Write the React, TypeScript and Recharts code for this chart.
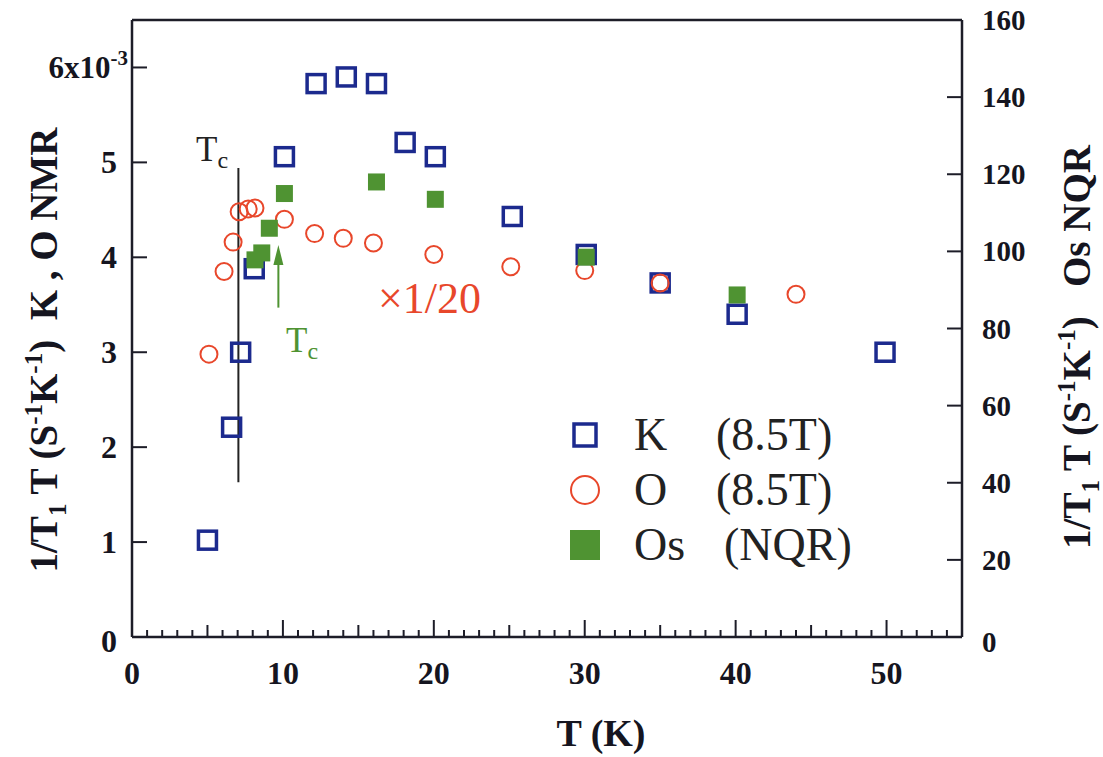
import {
  ScatterChart, Scatter, XAxis, YAxis, ReferenceLine, Legend,
} from 'recharts';

// temperature (K) and 1/T1T for each nucleus; K and O in 10^-3 units (left axis), Os on the right axis
const kT = [5.0, 6.6, 7.2, 8.1, 10.1, 12.2, 14.2, 16.2, 18.1, 20.1, 25.2, 30.1, 35.0, 40.1, 49.9];
const kVal = [1.02, 2.21, 3.0, 3.88, 5.06, 5.83, 5.9, 5.83, 5.21, 5.06, 4.43, 4.03, 3.73, 3.4, 3.0];

const oT = [5.1, 6.1, 6.7, 7.1, 7.7, 8.15, 10.1, 12.1, 14.0, 16.0, 20.0, 25.1, 30.0, 35.0, 44.0];
const oVal = [2.98, 3.85, 4.16, 4.48, 4.51, 4.52, 4.4, 4.25, 4.2, 4.15, 4.03, 3.9, 3.86, 3.73, 3.61];

const osT = [8.15, 8.6, 9.1, 10.1, 16.2, 20.1, 30.1, 40.1];
const osVal = [97.8, 99.6, 106, 115, 118, 113.5, 98.5, 88.7];

const xTicks = Array.from({ length: 56 }, (_, i) => i);
const leftTicks = [0, 1, 2, 3, 4, 5, 6];
const rightTicks = [0, 20, 40, 60, 80, 100, 120, 140, 160];

const tcT = 7.05;
const tcRange = [1.63, 4.94];
const osTcT = 9.7;
const osTcArrow = [3.47, 4.13];

const kData = kT.map((t, i) => ({ t, v: kVal[i] }));
const oData = oT.map((t, i) => ({ t, v: oVal[i] }));
const osData = osT.map((t, i) => ({ t, v: osVal[i] }));

const FONT = '"Liberation Serif", "Times New Roman", Times, serif';
const AXIS = '#1d1d28';
const INK = '#151520';
const BLUE = '#1c2a8e';
const RED = '#e8472b';
const GREEN = '#4f9332';

const tickLen = (v: number) => (v % 10 === 0 ? 17 : v % 5 === 0 ? 12 : 7);

const BottomTick = ({ x, y, payload }: any) => {
  const v = payload.value;
  return (
    <g>
      <line x1={x} y1={y} x2={x} y2={y - tickLen(v)} stroke={AXIS} strokeWidth={2} />
      {v % 10 === 0 && v <= 50 && (
        <text x={x} y={y + 47} textAnchor="middle" fontFamily={FONT} fontWeight="bold" fontSize={32} fill={INK}>
          {v}
        </text>
      )}
    </g>
  );
};

const TopTick = ({ x, y, payload }: any) => (
  <line x1={x} y1={y} x2={x} y2={y + tickLen(payload.value)} stroke={AXIS} strokeWidth={2} />
);

const LeftTick = ({ x, y, payload }: any) => {
  const v = payload.value;
  return (
    <g>
      <line x1={x} y1={y} x2={x + 15} y2={y} stroke={AXIS} strokeWidth={2} />
      {v === 6 ? (
        <text x={x - 4} y={y + 11} textAnchor="end" fontFamily={FONT} fontWeight="bold" fontSize={31} fill={INK}>
          6x10<tspan dy={-13} fontSize={21}>-3</tspan>
        </text>
      ) : (
        <text x={x - 15} y={y + (v === 0 ? 15 : 11)} textAnchor="end" fontFamily={FONT} fontWeight="bold" fontSize={32} fill={INK}>
          {v}
        </text>
      )}
    </g>
  );
};

const RightTick = ({ x, y, payload }: any) => (
  <g>
    <line x1={x} y1={y} x2={x - 15} y2={y} stroke={AXIS} strokeWidth={2} />
    <text x={x + 20} y={y + (payload.value === 0 ? 15 : 10)} textAnchor="start" fontFamily={FONT} fontWeight="bold" fontSize={29} fill={INK}>
      {payload.value}
    </text>
  </g>
);

const OpenSquare = ({ cx, cy }: any) => (
  <rect x={cx - 9} y={cy - 9} width={18} height={18} fill="none" stroke={BLUE} strokeWidth={3.5} />
);
const OpenCircle = ({ cx, cy }: any) => (
  <circle cx={cx} cy={cy} r={8.5} fill="none" stroke={RED} strokeWidth={2} />
);
const FilledSquare = ({ cx, cy }: any) => (
  <rect x={cx - 8.5} y={cy - 8.5} width={17} height={17} fill={GREEN} />
);

const ArrowUp = ({ x1, y1, x2, y2 }: any) => {
  const top = Math.min(y1, y2);
  const bottom = Math.max(y1, y2);
  return (
    <g>
      <line x1={x1} y1={bottom} x2={x2} y2={top + 14} stroke={GREEN} strokeWidth={2} />
      <polygon points={`${x2},${top} ${x2 - 5},${top + 20} ${x2 + 5},${top + 20}`} fill={GREEN} />
    </g>
  );
};

const legendRows = [
  { name: 'K', note: '(8.5T)', sym: <rect x={4} y={4} width={22} height={22} fill="none" stroke={BLUE} strokeWidth={3.5} />, pad: 0 },
  { name: 'O', note: '(8.5T)', sym: <circle cx={15} cy={15} r={14} fill="none" stroke={RED} strokeWidth={2} />, pad: 0 },
  { name: 'Os', note: '(NQR)', sym: <rect x={0} y={0} width={30} height={30} fill={GREEN} />, pad: 8 },
];

const renderLegend = () => (
  <div style={{ fontFamily: FONT, fontSize: 46, color: '#222', lineHeight: '55px' }}>
    {legendRows.map((r) => (
      <div key={r.name} style={{ display: 'flex', alignItems: 'center', height: 55 }}>
        <svg width={30} height={30} style={{ overflow: 'visible' }}>{r.sym}</svg>
        <span style={{ marginLeft: 34, width: 82 }}>{r.name}</span>
        <span style={{ paddingLeft: r.pad }}>{r.note}</span>
      </div>
    ))}
  </div>
);

export default function App() {
  return (
    <div style={{ position: 'absolute', left: 0, top: 0, width: 1103, height: 757, background: '#fff', fontFamily: FONT }}>
      <ScatterChart width={1103} height={757} margin={{ top: 19, right: 81, bottom: 80, left: 72 }}>
        <XAxis
          type="number" dataKey="t" domain={[0, 55]} ticks={xTicks} interval={0}
          tickSize={0} tickMargin={0} tick={<BottomTick />} height={40}
          axisLine={{ stroke: AXIS, strokeWidth: 2.5 }} tickLine={false}
        />
        <XAxis
          xAxisId="top" orientation="top" type="number" domain={[0, 55]} ticks={xTicks} interval={0}
          tickSize={0} tickMargin={0} tick={<TopTick />} height={1}
          axisLine={{ stroke: AXIS, strokeWidth: 2.5 }} tickLine={false}
        />
        <YAxis
          yAxisId="left" type="number" dataKey="v" domain={[0, 6.5]} ticks={leftTicks} interval={0}
          tickSize={0} tickMargin={0} tick={<LeftTick />} width={60} allowDataOverflow
          axisLine={{ stroke: AXIS, strokeWidth: 2.5 }} tickLine={false}
        />
        <YAxis
          yAxisId="right" orientation="right" type="number" dataKey="v" domain={[0, 160]} ticks={rightTicks} interval={0}
          tickSize={0} tickMargin={0} tick={<RightTick />} width={60} allowDataOverflow
          axisLine={{ stroke: AXIS, strokeWidth: 2.5 }} tickLine={false}
        />
        <ReferenceLine
          yAxisId="left" segment={[{ x: tcT, y: tcRange[0] }, { x: tcT, y: tcRange[1] }]}
          stroke="#222" strokeWidth={2} ifOverflow="visible"
        />
        <ReferenceLine
          yAxisId="left" segment={[{ x: osTcT, y: osTcArrow[0] }, { x: osTcT, y: osTcArrow[1] }]}
          shape={<ArrowUp />} ifOverflow="visible"
        />
        <Scatter data={kData} yAxisId="left" shape={<OpenSquare />} isAnimationActive={false} />
        <Scatter data={oData} yAxisId="left" shape={<OpenCircle />} isAnimationActive={false} />
        <Scatter data={osData} yAxisId="right" shape={<FilledSquare />} isAnimationActive={false} />
        <Legend
          layout="vertical" align="center" verticalAlign="middle" content={renderLegend}
          wrapperStyle={{ left: 570, top: 407, width: 340 }}
        />
      </ScatterChart>

      <svg width={1103} height={757} style={{ position: 'absolute', left: 0, top: 0, pointerEvents: 'none' }}
        fontFamily={FONT}>
        <text transform="rotate(-90 57 350)" x={57} y={350} textAnchor="middle" fontWeight="bold" fontSize={39} fill={INK}>
          1/T<tspan dy={9} fontSize={25}>1</tspan><tspan dy={-9}> T (S</tspan>
          <tspan dy={-15} fontSize={25}>-1</tspan><tspan dy={15}>K</tspan>
          <tspan dy={-15} fontSize={25}>-1</tspan><tspan dy={15}>)&#160;&#160;K , O NMR</tspan>
        </text>
        <text transform="rotate(-90 1090 347)" x={1090} y={347} textAnchor="middle" fontWeight="bold" fontSize={39} fill={INK}>
          1/T<tspan dy={9} fontSize={25}>1</tspan><tspan dy={-9}> T (S</tspan>
          <tspan dy={-15} fontSize={25}>-1</tspan><tspan dy={15}>K</tspan>
          <tspan dy={-15} fontSize={25}>-1</tspan><tspan dy={15}>)&#160;&#160;&#160;Os NQR</tspan>
        </text>
        <text x={601} y={746} textAnchor="middle" fontWeight="bold" fontSize={38} fill={INK}>T (K)</text>
        <text x={378} y={313} fontSize={44} fill={RED}>×1/20</text>
        <text x={196} y={161} fontSize={35} fill="#222">T<tspan dy={7} fontSize={24}>c</tspan></text>
        <text x={286} y={352} fontSize={35} fill={GREEN}>T<tspan dy={7} fontSize={24}>c</tspan></text>
      </svg>
    </div>
  );
}
